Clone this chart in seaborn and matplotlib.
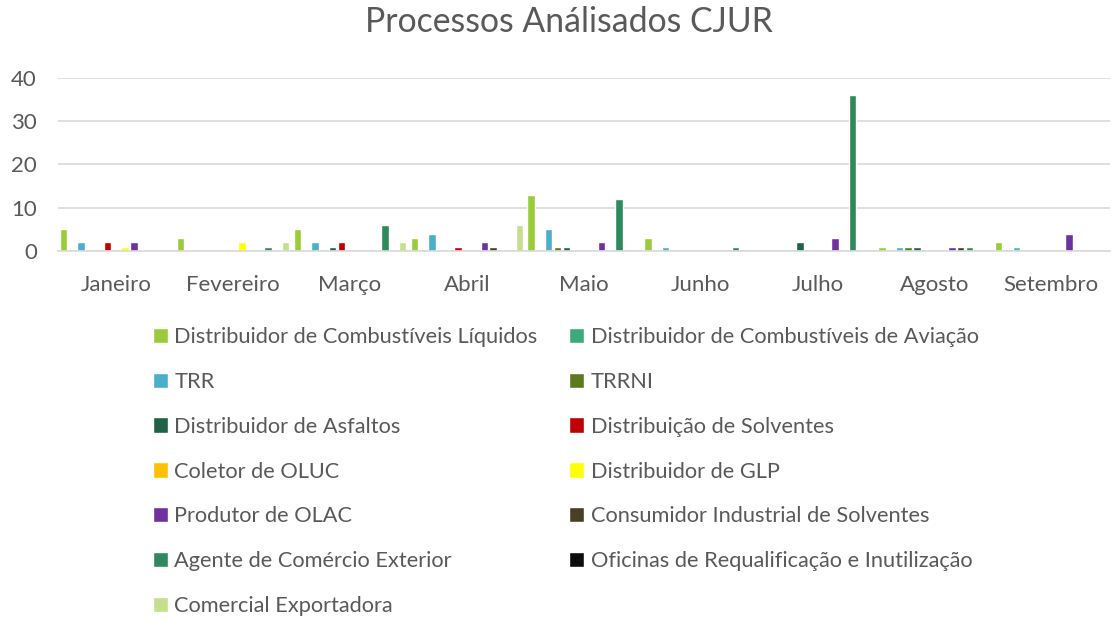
import pandas as pd
import matplotlib.pyplot as plt
import seaborn as sns

meses = ['Janeiro', 'Fevereiro', 'Março', 'Abril', 'Maio', 'Junho', 'Julho', 'Agosto', 'Setembro']

series = [
    'Distribuidor de Combustíveis Líquidos',
    'Distribuidor de Combustíveis de Aviação',
    'TRR',
    'TRRNI',
    'Distribuidor de Asfaltos',
    'Distribuição de Solventes',
    'Coletor de OLUC',
    'Distribuidor de GLP',
    'Produtor de OLAC',
    'Consumidor Industrial de Solventes',
    'Agente de Comércio Exterior',
    'Oficinas de Requalificação e Inutilização',
    'Comercial Exportadora',
]

# valores por mês (Jan..Set)
liquidos    = [5, 3, 5, 3, 13, 3, 0, 1, 2]
aviacao     = [0, 0, 0, 0, 0, 0, 0, 0, 0]
trr         = [2, 0, 2, 4, 5, 1, 0, 1, 1]
trrni       = [0, 0, 0, 0, 1, 0, 0, 1, 0]
asfaltos    = [0, 0, 1, 0, 1, 0, 2, 1, 0]
solventes   = [2, 0, 2, 1, 0, 0, 0, 0, 0]
oluc        = [0, 0, 0, 0, 0, 0, 0, 0, 0]
glp         = [1, 2, 0, 0, 0, 0, 0, 0, 0]
olac        = [2, 0, 0, 2, 2, 0, 3, 1, 4]
consumidor  = [0, 0, 0, 1, 0, 0, 0, 1, 0]
agente      = [0, 1, 6, 0, 12, 1, 36, 1, 0]
oficinas    = [0, 0, 0, 0, 0, 0, 0, 0, 0]
exportadora = [0, 2, 2, 6, 0, 0, 0, 0, 0]

valores = [liquidos, aviacao, trr, trrni, asfaltos, solventes, oluc, glp,
           olac, consumidor, agente, oficinas, exportadora]

cores = ['#9ACB39', '#3AAA78', '#4BAFCB', '#5B7A1F', '#1F6347', '#C00000',
         '#FFC000', '#FFFF00', '#7030A0', '#483F26', '#2E8A5C', '#0D0D0D', '#C4E08D']

rows = []
for s, vals in zip(series, valores):
    for m, v in zip(meses, vals):
        rows.append({'Mes': m, 'Tipo': s, 'Qtd': v})
df = pd.DataFrame(rows)

sns.set_style('white')
plt.rcParams['font.family'] = ['Lato', 'DejaVu Sans']

fig = plt.figure(figsize=(11.12, 6.21), dpi=100)
ax = fig.add_axes([0.052, 0.596, 0.946, 0.279])

sns.barplot(data=df, x='Mes', y='Qtd', hue='Tipo', order=meses, hue_order=series,
            palette=cores, width=0.975, gap=0.15, ax=ax, errorbar=None, saturation=1)

ax.set_ylim(0, 40)
ax.set_xlim(-0.5, 8.5)
ax.set_yticks([0, 10, 20, 30, 40])
ax.yaxis.grid(True, color='#D9D9D9', linewidth=1.2)
ax.set_axisbelow(True)
for side in ['top', 'right', 'left']:
    ax.spines[side].set_visible(False)
ax.spines['bottom'].set_color('#D9D9D9')
ax.spines['bottom'].set_linewidth(1.2)
ax.tick_params(axis='both', length=0, labelsize=16, colors='#595959')
ax.tick_params(axis='x', pad=17.5)
ax.tick_params(axis='y', pad=15)
ax.set_xlabel('')
ax.set_ylabel('')

handles, labels = ax.get_legend_handles_labels()
ax.get_legend().remove()
ordem = [0, 2, 4, 6, 8, 10, 12, 1, 3, 5, 7, 9, 11]
leg = fig.legend([handles[i] for i in ordem], [labels[i] for i in ordem],
                 ncol=2, loc='upper left', bbox_to_anchor=(0.1195, 0.505),
                 frameon=False, fontsize=15.7, handlelength=0.7, handleheight=0.7,
                 handletextpad=0.3, columnspacing=1.45, labelspacing=1.14)
for t in leg.get_texts():
    t.set_color('#595959')

fig.suptitle('Processos Análisados CJUR', x=0.512, y=0.99, fontsize=24.3, color='#595959')

fig.savefig('out.png', dpi=100)
